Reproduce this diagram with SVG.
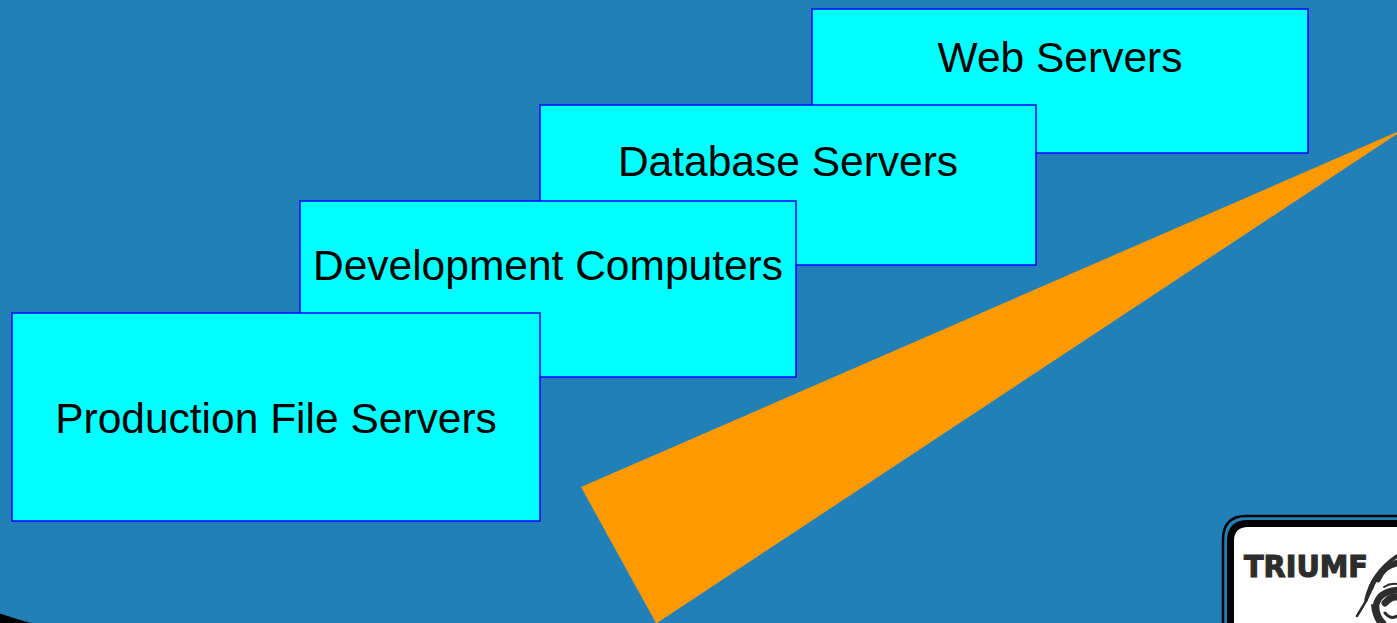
<svg xmlns="http://www.w3.org/2000/svg" width="1397" height="623" viewBox="0 0 1397 623">
<style>
.box{fill:#00ffff;stroke:#0000ff;stroke-width:1.5}
.lbl{font-family:"Liberation Sans",Arial,sans-serif;font-size:42.5px;fill:#000;text-anchor:middle}
</style>
<rect id="background" width="1397" height="623" fill="#2280b8"/>
<path d="M0 613.500Q16 619 31 623L0 623Z" fill="#000"/>
<g id="connectors"/>
<g id="web-servers"><rect class="box" x="812" y="9" width="496" height="144"/><text class="lbl" x="1060" y="71.500">Web Servers</text></g>
<g id="database-servers"><rect class="box" x="540" y="105" width="496" height="160"/><text class="lbl" x="788" y="175.500">Database Servers</text></g>
<g id="development-computers"><rect class="box" x="300" y="201" width="496" height="176"/><text class="lbl" x="548" y="279.500">Development Computers</text></g>
<g id="production-file-servers"><rect class="box" x="12" y="313" width="528" height="208"/><text class="lbl" x="276" y="432.500">Production File Servers</text></g>
<polygon id="wedge" points="1397,132 581,487 656,623 657,623 1397,134" fill="#ff9900"/>
<g id="logo">
<path d="M1397 516H1246Q1223 516 1223 540V623" fill="none" stroke="#000" stroke-width="2.500"/>
<path d="M1397 523.500H1248Q1230.500 523.500 1230.500 541V630H1405V523.500Z" fill="#fff" stroke="#000" stroke-width="7"/>
<text x="1244" y="577" font-family="'DejaVu Sans',sans-serif" font-weight="700" font-size="31" fill="#2d2d2d" stroke="#2d2d2d" stroke-width="1.200" textLength="124" lengthAdjust="spacingAndGlyphs">TRIUMF</text>
<g fill="none" stroke="#2d2d2d" stroke-linecap="round">
<path d="M1357 616L1366 601Q1371 592 1374 582" stroke-width="2.500"/>
<path d="M1366 600Q1372 573 1397 556" stroke-width="3.500"/>
<path d="M1371 588Q1377 570 1397 562" stroke-width="5"/>
<path d="M1378 580Q1384 566 1397 564" stroke-width="5"/>
<path d="M1397 590Q1378 592 1376 606Q1376 616 1383 623" stroke-width="6.500"/>
<path d="M1372 605Q1373 616 1378 623" stroke-width="2"/>
<path d="M1397 584Q1390 583 1384 587" stroke-width="2"/>
<path d="M1385 603Q1391 596 1397 597" stroke-width="7"/>
<path d="M1385 613Q1391 620 1397 616" stroke-width="3"/>
</g>
</g>
</svg>
